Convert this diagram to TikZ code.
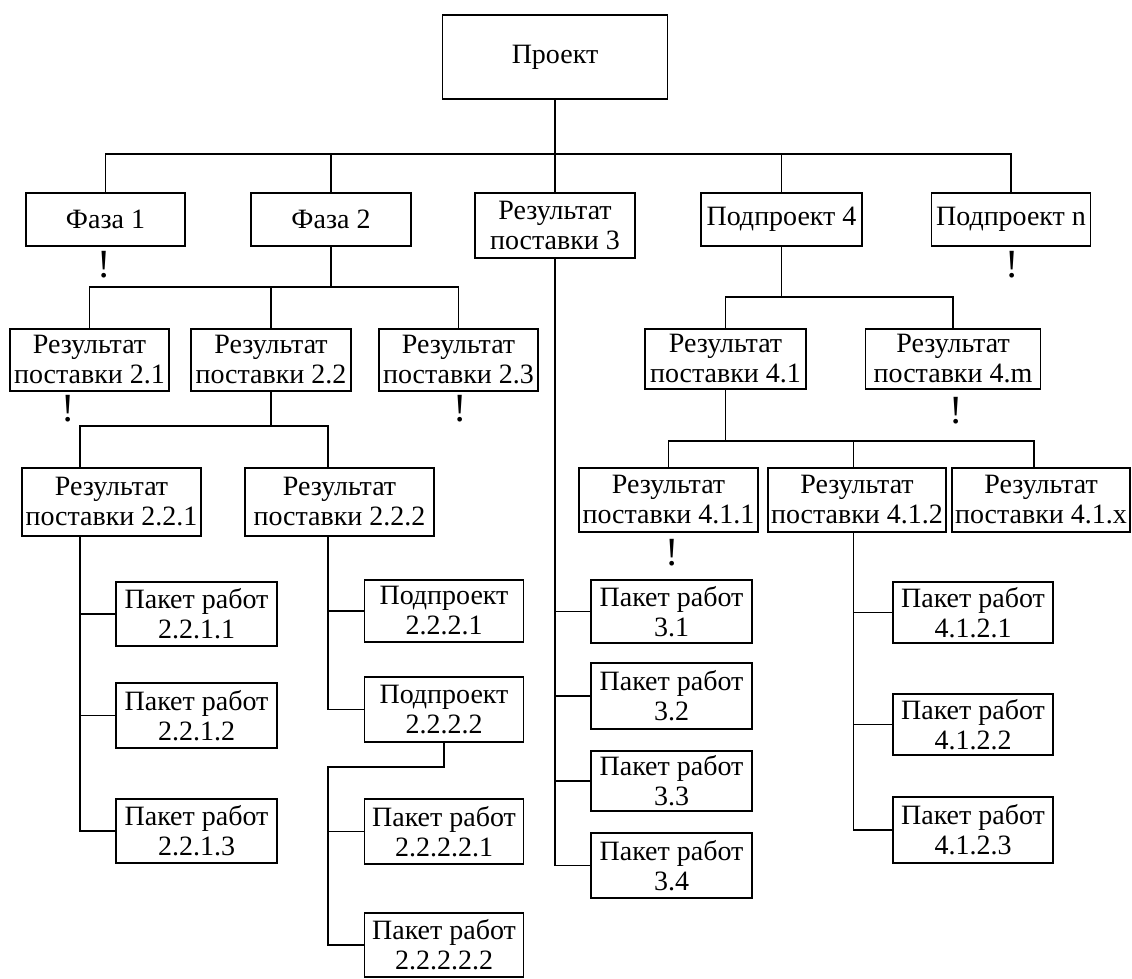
\documentclass[tikz,border=0pt]{standalone}
\usepackage{fontspec}
\setmainfont{Liberation Serif}

\begin{document}
\begin{tikzpicture}[x=1pt, y=-1pt,
  every node/.style={font=\fontsize{28}{30}\selectfont},
  wbsbox/.style={draw, line width=1.8pt, align=center, inner sep=0pt, minimum width=160pt, minimum height=62pt},
  onebox/.style={wbsbox, minimum height=53pt},
  link/.style={line width=1.8pt},
  gap/.style={font=\fontsize{40}{40}\selectfont, inner sep=0pt}
]
\useasboundingbox (0,0) rectangle (1132,979);

\node[wbsbox, minimum width=225pt, minimum height=84pt] (proj) at (555,57) {Проект};
\node[onebox, minimum width=159pt] (faza1) at (105.5,219.5) {Фаза 1};
\node[onebox] (faza2) at (331,219.5) {Фаза 2};
\node[wbsbox, minimum height=65pt] (res3) at (555,225.5) {Результат\\поставки 3};
\node[onebox, minimum width=161pt] (sub4) at (781.5,219.5) {Подпроект 4};
\node[onebox, minimum width=159pt] (subn) at (1011,219.5) {Подпроект n};

\node[wbsbox, minimum width=159pt] (r21) at (89.5,360) {Результат\\поставки 2.1};
\node[wbsbox] (r22) at (271,360) {Результат\\поставки 2.2};
\node[wbsbox, minimum width=159pt] (r23) at (458.5,360) {Результат\\поставки 2.3};
\node[wbsbox, minimum width=161pt, minimum height=60pt] (r41) at (725.5,359) {Результат\\поставки 4.1};
\node[wbsbox, minimum width=175pt, minimum height=60pt] (r4m) at (953,359) {Результат\\поставки 4.m};

\node[wbsbox, minimum width=179pt, minimum height=68pt] (r221) at (111.5,502) {Результат\\поставки 2.2.1};
\node[wbsbox, minimum width=189pt, minimum height=68pt] (r222) at (339.5,502) {Результат\\поставки 2.2.2};
\node[wbsbox, minimum width=179pt, minimum height=64pt] (r411) at (668.5,500) {Результат\\поставки 4.1.1};
\node[wbsbox, minimum width=178pt, minimum height=64pt] (r412) at (857,500) {Результат\\поставки 4.1.2};
\node[wbsbox, minimum width=178pt, minimum height=64pt] (r41x) at (1041,500) {Результат\\поставки 4.1.x};

\node[wbsbox, minimum width=161pt, minimum height=64pt] (p2211) at (196.5,614) {Пакет работ\\2.2.1.1};
\node[wbsbox, minimum width=161pt, minimum height=65pt] (p2212) at (196.5,715.5) {Пакет работ\\2.2.1.2};
\node[wbsbox, minimum width=161pt, minimum height=64pt] (p2213) at (196.5,831) {Пакет работ\\2.2.1.3};

\node[wbsbox, minimum width=159pt] (s2221) at (444,611) {Подпроект\\2.2.2.1};
\node[wbsbox, minimum width=159pt, minimum height=65pt] (s2222) at (444,709.5) {Подпроект\\2.2.2.2};
\node[wbsbox, minimum width=159pt, minimum height=65pt] (p22221) at (444,831.5) {Пакет работ\\2.2.2.2.1};
\node[wbsbox, minimum width=159pt, minimum height=64pt] (p22222) at (444,945) {Пакет работ\\2.2.2.2.2};

\node[wbsbox, minimum width=161pt, minimum height=63pt] (p31) at (671.5,611.5) {Пакет работ\\3.1};
\node[wbsbox, minimum width=161pt, minimum height=66pt] (p32) at (671.5,696) {Пакет работ\\3.2};
\node[wbsbox, minimum width=161pt, minimum height=60pt] (p33) at (671.5,781) {Пакет работ\\3.3};
\node[wbsbox, minimum width=161pt, minimum height=65pt] (p34) at (671.5,865.5) {Пакет работ\\3.4};

\node[wbsbox, minimum height=61pt] (p4121) at (973,612.5) {Пакет работ\\4.1.2.1};
\node[wbsbox, minimum height=61pt] (p4122) at (973,724.5) {Пакет работ\\4.1.2.2};
\node[wbsbox, minimum height=66pt] (p4123) at (973,830) {Пакет работ\\4.1.2.3};

\node[gap] (e1) at (104,265) {!};
\node[gap] (en) at (1012,265) {!};
\node[gap] (e21) at (68,409) {!};
\node[gap] (e23) at (460,409) {!};
\node[gap] (e4m) at (956.5,411) {!};
\node[gap] (e411) at (672.5,553) {!};

\coordinate (j0) at (555,154);
\coordinate (j2) at (331,287);
\coordinate (j22) at (271,426);
\coordinate (j4) at (781.5,297);
\coordinate (j41) at (725.5,441);
\coordinate (j2222) at (328,767);
\coordinate (t221) at ([xshift=-31.5pt]r221.south);
\coordinate (t222) at ([xshift=-11.5pt]r222.south);
\coordinate (t412) at ([xshift=-3.5pt]r412.south);

\draw[link] (proj.south) -- (j0);
\draw[link] (faza1.north) |- (j0);
\draw[link] (faza2.north) |- (j0);
\draw[link] (res3.north) -- (j0);
\draw[link] (sub4.north) |- (j0);
\draw[link] (subn.north) |- (j0);

\draw[link] (faza2.south) -- (j2);
\draw[link] (r21.north) |- (j2);
\draw[link] (r22.north) |- (j2);
\draw[link] (r23.north) |- (j2);

\draw[link] (r22.south) -- (j22);
\draw[link] ([xshift=-31.5pt]r221.north) |- (j22);
\draw[link] ([xshift=-11.5pt]r222.north) |- (j22);

\draw[link] (t221) |- (p2213.west);
\draw[link] (p2211.west) -- (p2211.west -| t221);
\draw[link] (p2212.west) -- (p2212.west -| t221);

\draw[link] (t222) |- (s2222.west);
\draw[link] (s2221.west) -- (s2221.west -| t222);
\draw[link] (s2222.south) |- (j2222) |- (p22222.west);
\draw[link] (p22221.west) -- (p22221.west -| j2222);

\draw[link] (res3.south) |- (p34.west);
\draw[link] (p31.west) -- (p31.west -| res3.south);
\draw[link] (p32.west) -- (p32.west -| res3.south);
\draw[link] (p33.west) -- (p33.west -| res3.south);

\draw[link] (sub4.south) -- (j4);
\draw[link] (r41.north) |- (j4);
\draw[link] (r4m.north) |- (j4);

\draw[link] (r41.south) -- (j41);
\draw[link] (r411.north) |- (j41);
\draw[link] ([xshift=-3.5pt]r412.north) |- (j41);
\draw[link] ([xshift=-7pt]r41x.north) |- (j41);

\draw[link] (t412) |- (p4123.west);
\draw[link] (p4121.west) -- (p4121.west -| t412);
\draw[link] (p4122.west) -- (p4122.west -| t412);
\end{tikzpicture}
\end{document}
